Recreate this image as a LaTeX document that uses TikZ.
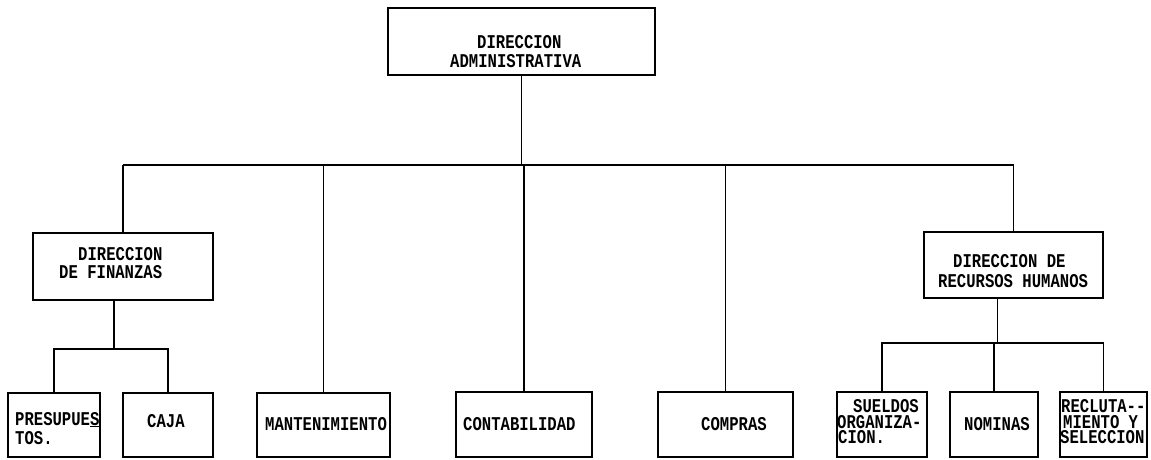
\documentclass[tikz,border=0pt]{standalone}
\usepackage{fontspec}
\newfontfamily\tw[FakeStretch=0.8]{Liberation Mono}
\begin{document}
\begin{tikzpicture}[x=1pt,y=-1pt,
  box/.style={draw=black, line width=1.8pt, inner sep=0pt, fill=none},
  wire/.style={draw=black, line width=1.8pt},
  lbl/.style={inner sep=0pt, anchor=base west, text height=11.5pt, text depth=0pt,
              font=\tw\bfseries\fontsize{19.5}{21}\selectfont}]
% page
\fill[white] (0,0) rectangle (1151,459);
\useasboundingbox (0,0) rectangle (1151,459);

% boxes
\node[box, minimum width=267pt, minimum height=67pt] (top)  at (521.5,41.5) {};
\node[box, minimum width=180pt, minimum height=67pt] (fin)  at (123,266.5) {};
\node[box, minimum width=179pt, minimum height=66pt] (rh)   at (1013.5,265) {};
\node[box, minimum width=92pt,  minimum height=64pt] (pres) at (54,425) {};
\node[box, minimum width=90pt,  minimum height=64pt] (caja) at (168,425) {};
\node[box, minimum width=133pt, minimum height=64pt] (mant) at (323.5,425) {};
\node[box, minimum width=136pt, minimum height=65pt] (cont) at (524,424.5) {};
\node[box, minimum width=135pt, minimum height=65pt] (comp) at (725.5,424.5) {};
\node[box, minimum width=90pt,  minimum height=65pt] (suel) at (882,424.5) {};
\node[box, minimum width=88pt,  minimum height=65pt] (nom)  at (994,424.5) {};
\node[box, minimum width=87pt,  minimum height=65pt] (recl) at (1103.5,424.5) {};

% labels
\node[lbl] (tA) at (477,48) {DIRECCION};
\node[lbl] (tB) at (450,67) {ADMINISTRATIVA};
\node[lbl] (fA) at (78,260) {DIRECCION};
\node[lbl] (fB) at (59,278) {DE FINANZAS};
\node[lbl] (rA) at (953,267) {DIRECCION DE};
\node[lbl] (rB) at (938,287) {RECURSOS HUMANOS};
\node[lbl] (pA) at (15,425) {PRESUPUE\underline{S}};
\node[lbl] (pB) at (15,444) {TOS.};
\node[lbl] (cj) at (147,427) {CAJA};
\node[lbl] (mt) at (265,430) {MANTENIMIENTO};
\node[lbl] (ct) at (463,430) {CONTABILIDAD};
\node[lbl] (cp) at (701,430) {COMPRAS};
\node[lbl] (sA) at (853,412) {SUELDOS};
\node[lbl] (sB) at (837,428) {ORGANIZA-};
\node[lbl] (sC) at (838,443) {CION.};
\node[lbl] (nm) at (964,430) {NOMINAS};
\node[lbl] (lA) at (1061,412) {RECLUTA--};
\node[lbl] (lB) at (1063,428) {MIENTO Y};
\node[lbl] (lC) at (1060,443) {SELECCION};

% main bus
\coordinate (bus) at (0,165);
\draw[wire] (top.south) -- (top.south |- bus);
\draw[wire] (fin.north |- bus) -- (rh.north |- bus);
\draw[wire] (fin.north) -- (fin.north |- bus);
\draw[wire] (mant.north) -- (mant.north |- bus);
\draw[wire] (cont.north) -- (cont.north |- bus);
\draw[wire] (comp.north) -- (comp.north |- bus);
\draw[wire] (rh.north) -- (rh.north |- bus);

% finance branch
\coordinate (fsub) at (0,349);
\draw[wire] ([xshift=-9pt]fin.south) -- ([xshift=-9pt]fin.south |- fsub);
\draw[wire] (pres.north) -- (pres.north |- fsub) -- (caja.north |- fsub) -- (caja.north);

% human resources branch
\coordinate (hsub) at (0,343);
\draw[wire] ([xshift=-16pt]rh.south) -- ([xshift=-16pt]rh.south |- hsub);
\draw[wire] (suel.north) -- (suel.north |- hsub) -- (recl.north |- hsub) -- (recl.north);
\draw[wire] (nom.north) -- (nom.north |- hsub);
\end{tikzpicture}
\end{document}
